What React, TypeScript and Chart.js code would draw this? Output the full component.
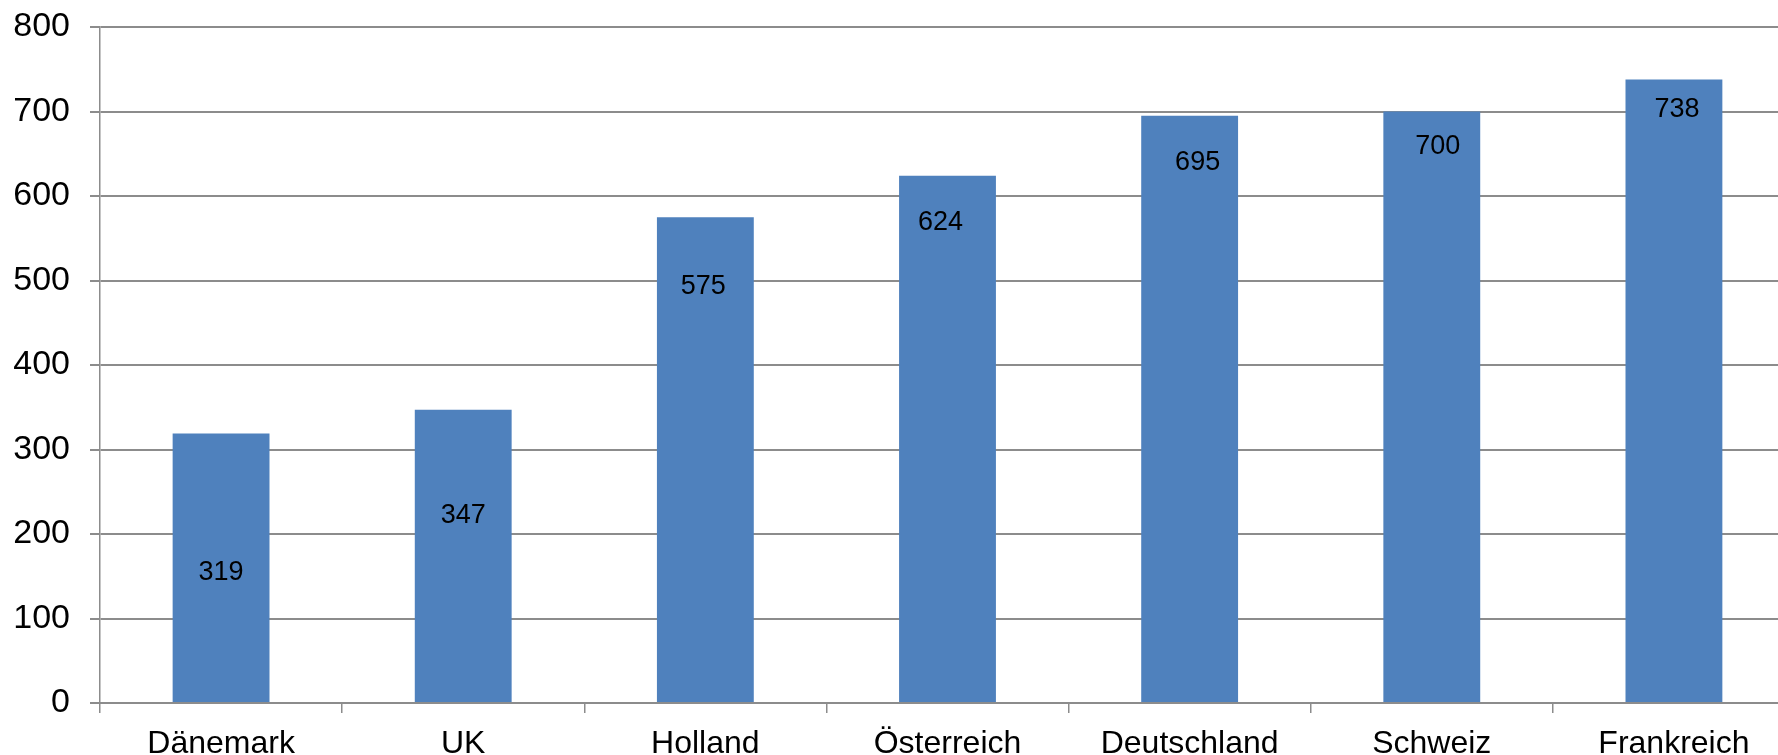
import React, { useEffect, useRef } from "react";
import { Chart, registerables } from "chart.js";

Chart.register(...registerables);

// Countries and their values
const categories = ["Dänemark", "UK", "Holland", "Österreich", "Deutschland", "Schweiz", "Frankreich"];
const values = [319, 347, 575, 624, 695, 700, 738];

// Value-axis ticks
const yTicks = [0, 100, 200, 300, 400, 500, 600, 700, 800];

// Where each value label sits, in axis units, plus a small horizontal nudge (px)
const labelAnchor = [154, 222, 493, 568, 640, 658, 702];
const labelNudge = [0, 0, -2, -7, 8, 6, 3];

const BAR_BLUE = "#4f81bd";
const GRID_GREY = "#8c8c8c";
const FONT = "'Liberation Sans', Arial, sans-serif";

const valueLabels = {
  id: "valueLabels",
  afterDatasetsDraw(chart: any) {
    const { ctx } = chart;
    const meta = chart.getDatasetMeta(0);
    const yScale = chart.scales.y;
    ctx.save();
    ctx.font = `27px ${FONT}`;
    ctx.fillStyle = "#000";
    ctx.textAlign = "center";
    ctx.textBaseline = "middle";
    meta.data.forEach((bar: any, i: number) => {
      const y = yScale.getPixelForValue(labelAnchor[i]);
      ctx.fillText(String(values[i]), bar.x + labelNudge[i], y);
    });
    ctx.restore();
  },
};

export default function App() {
  const canvasRef = useRef<HTMLCanvasElement | null>(null);

  useEffect(() => {
    const canvas = canvasRef.current;
    if (!canvas) return;
    const chart = new Chart(canvas, {
      type: "bar",
      data: {
        labels: categories,
        datasets: [
          {
            data: values,
            backgroundColor: BAR_BLUE,
            borderWidth: 0,
            barPercentage: 0.4,
            categoryPercentage: 1,
          },
        ],
      },
      options: {
        responsive: false,
        animation: false,
        devicePixelRatio: 1,
        layout: { padding: { top: 27, right: 5, left: 0, bottom: 0 } },
        plugins: {
          legend: { display: false },
          tooltip: { enabled: false },
        },
        scales: {
          x: {
            offset: true,
            grid: {
              offset: true,
              drawOnChartArea: false,
              drawTicks: true,
              tickLength: 10,
              color: GRID_GREY,
              lineWidth: 1.5,
            },
            border: { display: true, color: GRID_GREY, width: 2 },
            ticks: {
              color: "#000",
              font: { family: FONT, size: 32 },
              padding: 12,
              maxRotation: 0,
              autoSkip: false,
            },
            afterFit(scale: any) {
              scale.height = 52;
              scale.paddingLeft = 0;
              scale.paddingRight = 0;
            },
          },
          y: {
            min: 0,
            max: 800,
            afterBuildTicks(scale: any) {
              scale.ticks = yTicks.map((v) => ({ value: v }));
            },
            grid: {
              drawOnChartArea: true,
              drawTicks: true,
              tickLength: 10,
              color: GRID_GREY,
              lineWidth: 2,
            },
            border: { display: true, color: GRID_GREY, width: 1.5 },
            ticks: {
              color: "#000",
              font: { family: FONT, size: 34 },
              padding: 20,
            },
            afterFit(scale: any) {
              scale.width = 100;
              scale.paddingTop = 0;
              scale.paddingBottom = 0;
            },
          },
        },
      },
      plugins: [valueLabels],
    });
    return () => chart.destroy();
  }, []);

  return (
    <div
      style={{
        position: "fixed",
        left: 0,
        top: 0,
        width: 1778,
        height: 755,
        overflow: "hidden",
        background: "#fff",
      }}
    >
      <canvas ref={canvasRef} width={1800} height={755} style={{ display: "block" }} />
    </div>
  );
}
